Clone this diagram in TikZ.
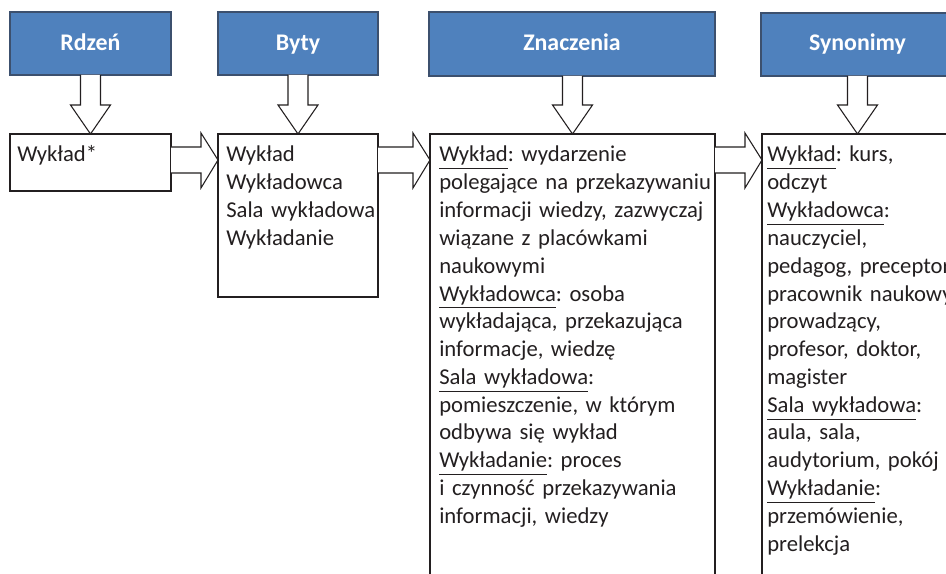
\documentclass[tikz,border=0pt]{standalone}
\usepackage{fontspec}
\setmainfont{Carlito}
\usetikzlibrary{calc,fit}
\definecolor{headblue}{RGB}{79,129,189}
\definecolor{headline}{RGB}{60,80,110}
\definecolor{ink}{RGB}{35,31,32}
\frenchspacing
% underline placed just under the descenders
\newcommand\undl[1]{\leavevmode\setbox0\hbox{#1}\rlap{\rule[-5.6pt]{\wd0}{0.75pt}}\box0}
\tikzset{
  headbox/.style={draw=headline, fill=headblue, line width=1pt, inner sep=0pt, outer sep=0pt},
  headtxt/.style={text=white, font=\fontsize{17.9}{21}\selectfont\bfseries, anchor=base, inner sep=0pt},
  itembox/.style={draw=ink, fill=white, line width=1pt, inner sep=0pt, outer sep=0pt},
  bodytxt/.style={text=ink, font=\fontsize{17}{20.85}\selectfont, anchor=base west, inner sep=0pt, text width=320pt, align=left},
  blockarrow/.style={draw=ink, fill=white, line width=0.8pt, line join=miter},
}
% hollow arrow from a header down to its box
\newcommand\downblock[2]{%
  \draw[blockarrow] ($(#2.north |- #1.south)+(-10,0)$) -- ($(#2.north)+(-10,-29)$)
    -- ($(#2.north)+(-20,-29)$) -- (#2.north) -- ($(#2.north)+(20,-29)$)
    -- ($(#2.north)+(10,-29)$) -- ($(#2.north |- #1.south)+(10,0)$);}
% hollow arrow from one box to the next
\newcommand\rightblock[2]{%
  \draw[blockarrow] ($(#1.north east)+(0,13)$) -- ($(#2.north west)+(-17,13)$)
    -- ($(#2.north west)+(-17,-1)$) -- ($(#2.north west)+(0,26)$)
    -- ($(#2.north west)+(-17,54)$) -- ($(#2.north west)+(-17,39)$)
    -- ($(#1.north east)+(0,39)$);}
\begin{document}
\begin{tikzpicture}[x=0.75pt, y=-0.75pt]
  \useasboundingbox (0,0) rectangle (946,574);
  \clip (0,0) rectangle (946,574);
  \fill[white] (0,0) rectangle (946,574);

  % headers
  \node[headbox, fit={(10,12) (171,75)}] (h1) {};
  \node[headbox, fit={(218,12) (378,75)}] (h2) {};
  \node[headbox, fit={(429,12) (715,76)}] (h3) {};
  \node[headbox, fit={(761,13) (960,76)}] (h4) {};
  \node[headtxt] (h1t) at ($(h1.center)+(0,7)$) {Rdzeń};
  \node[headtxt] (h2t) at ($(h2.center)+(0,7)$) {Byty};
  \node[headtxt] (h3t) at ($(h3.center)+(0,7)$) {Znaczenia};
  \node[headtxt] (h4t) at ($(h4.center |- h3.center)+(-3,7)$) {Synonimy};

  % content boxes
  \node[itembox, fit={(10,134) (171,191)}] (b1) {};
  \node[itembox, fit={(218,134) (378,297)}] (b2) {};
  \node[itembox, fit={(430,134) (715,600)}] (b3) {};
  \node[itembox, fit={(762,134) (953,600)}] (b4) {};

  \node[bodytxt] (t1) at ($(b1.north west)+(7,28)$) {Wykład*};
  \node[bodytxt] (t2) at ($(b2.north west)+(8,28)$) {Wykład\\Wykładowca\\Sala wykładowa\\Wykładanie};
  \node[bodytxt] (t3) at ($(b3.north west)+(9,28)$) {%
    \undl{Wykład}: wydarzenie\\
    polegające na przekazywaniu\\
    informacji wiedzy, zazwyczaj\\
    wiązane z placówkami\\
    naukowymi\\
    \undl{Wykładowca}: osoba\\
    wykładająca, przekazująca\\
    informacje, wiedzę\\
    \undl{Sala wykładowa}:\\
    pomieszczenie, w którym\\
    odbywa się wykład\\
    \undl{Wykładanie}: proces\\
    i czynność przekazywania\\
    informacji, wiedzy};
  \node[bodytxt] (t4) at ($(b4.north west)+(5,28)$) {%
    \undl{Wykład}: kurs,\\
    odczyt\\
    \undl{Wykładowca}:\\
    nauczyciel,\\
    pedagog, preceptor,\\
    pracownik naukowy,\\
    prowadzący,\\
    profesor, doktor,\\
    magister\\
    \undl{Sala wykładowa}:\\
    aula, sala,\\
    audytorium, pokój\\
    \undl{Wykładanie}:\\
    przemówienie,\\
    prelekcja};

  % arrows
  \downblock{h1}{b1}
  \downblock{h2}{b2}
  \downblock{h3}{b3}
  \downblock{h4}{b4}
  \rightblock{b1}{b2}
  \rightblock{b2}{b3}
  \rightblock{b3}{b4}
\end{tikzpicture}
\end{document}
